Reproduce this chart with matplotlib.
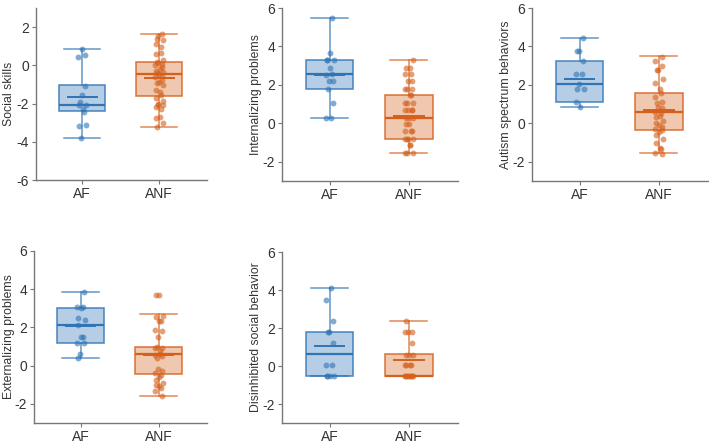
import numpy as np
import matplotlib
matplotlib.use("Agg")
import matplotlib.pyplot as plt
from matplotlib.colors import to_rgba

plt.rcParams['font.family'] = ['Liberation Sans', 'DejaVu Sans']
plt.rcParams['axes.unicode_minus'] = False

groups = ["AF", "ANF"]
titles = ["Social skills", "Internalizing problems", "Autism spectrum behaviors",
          "Externalizing problems", "Disinhibited social behavior"]

# individual points
social_af = [0.85, 0.55, 0.45, -1.1, -1.55, -1.9, -2.05, -2.1, -2.3, -2.45, -3.15, -3.1, -3.8]
social_anf = [1.65, 1.55, 1.4, 1.3, 1.1, 0.95, 0.65, 0.6, 0.3, 0.15, 0.1, 0.05, 0.0, -0.1,
              -0.2, -0.3, -0.35, -0.4, -0.45, -0.55, -0.6, -0.75, -0.85, -0.95, -1.05, -1.3,
              -1.4, -1.55, -1.7, -1.85, -2.0, -2.05, -2.1, -2.2, -2.3, -2.7, -2.75, -3.0, -3.25]
intern_af = [5.5, 3.65, 3.3, 3.3, 3.3, 2.9, 2.55, 2.5, 2.2, 2.2, 1.8, 1.05, 0.3, 0.3]
intern_anf = [3.3, 2.9, 2.9, 2.55, 2.55, 2.2, 2.2, 1.8, 1.8, 1.8, 1.45, 1.45, 1.05, 1.05, 1.05,
              0.7, 0.7, 0.7, 0.7, 0.3, 0.3, 0.3, -0.05, -0.05, -0.4, -0.4, -0.4, -0.8, -0.8,
              -0.8, -0.8, -1.15, -1.15, -1.55, -1.55, -1.55]
autism_af = [4.45, 3.75, 3.75, 3.25, 2.55, 2.55, 2.05, 1.8, 1.8, 1.1, 0.85]
autism_anf = [3.45, 3.25, 3.0, 2.8, 2.75, 2.3, 2.1, 1.8, 1.6, 1.35, 1.1, 1.05, 0.85, 0.8, 0.6,
              0.55, 0.4, 0.35, 0.1, 0.0, -0.1, -0.2, -0.3, -0.35, -0.45, -0.6, -0.8, -1.0,
              -1.3, -1.35, -1.55, -1.6]
extern_af = [3.85, 3.05, 3.05, 3.0, 2.5, 2.4, 2.15, 1.5, 1.5, 1.2, 1.2, 0.6, 0.4]
extern_anf = [3.7, 3.7, 2.6, 2.55, 2.35, 2.35, 1.85, 1.8, 1.5, 1.0, 0.95, 0.9, 0.75, 0.6, 0.55,
              0.5, 0.4, -0.2, -0.3, -0.4, -0.5, -0.6, -0.75, -0.9, -1.0, -1.05, -1.15, -1.3, -1.6]
disinh_af = [4.1, 3.5, 2.35, 1.8, 1.8, 1.2, 0.05, 0.05, -0.5, -0.5, -0.5, -0.5]
disinh_anf = [2.35, 1.8, 1.8, 1.8, 1.2, 0.6, 0.6, 0.6, 0.05, 0.05, 0.05, 0.05,
              -0.5, -0.5, -0.5, -0.5, -0.5, -0.5, -0.5, -0.5]

# box statistics per panel: [AF, ANF]
q1 = [[-2.4, -1.6], [1.8, -0.8], [1.1, -0.35], [1.2, -0.45], [-0.5, -0.5]]
med = [[-2.1, -0.45], [2.55, 0.3], [2.05, 0.6], [2.15, 0.6], [0.65, -0.5]]
q3 = [[-1.05, 0.15], [3.3, 1.45], [3.25, 1.6], [3.0, 1.0], [1.8, 0.65]]
whislo = [[-3.8, -3.25], [0.3, -1.55], [0.85, -1.55], [0.4, -1.6], [-0.5, -0.5]]
whishi = [[0.85, 1.65], [5.5, 3.3], [4.45, 3.5], [3.85, 2.7], [4.1, 2.35]]
means = [[-1.65, -0.65], [2.5, 0.4], [2.3, 0.7], [2.05, 0.55], [1.05, 0.3]]

points = [[social_af, social_anf], [intern_af, intern_anf], [autism_af, autism_anf],
          [extern_af, extern_anf], [disinh_af, disinh_anf]]
ylims = [(-6, 3), (-3, 6), (-3, 6), (-3, 6), (-3, 6)]
yticks = [[-6, -4, -2, 0, 2], [-2, 0, 2, 4, 6], [-2, 0, 2, 4, 6], [-2, 0, 2, 4, 6], [-2, 0, 2, 4, 6]]

colors = ["#2f74b5", "#d4601c"]
W, H = 709, 443
rects_px = [(36, 8, 207, 180), (282, 8, 458, 181), (532, 8, 708, 181),
            (34, 251, 207, 423), (282, 252, 458, 423)]
label_x_px = [15, 262, 512, 15, 262]

fig = plt.figure(figsize=(W / 100, H / 100), dpi=100)
fig.patch.set_facecolor("white")

for k in range(5):
    l, t, r, b = rects_px[k]
    ax = fig.add_axes([l / W, 1 - b / H, (r - l) / W, (b - t) / H])
    for g in range(2):
        c = colors[g]
        stats = [dict(med=med[k][g], q1=q1[k][g], q3=q3[k][g],
                      whislo=whislo[k][g], whishi=whishi[k][g], fliers=[])]
        ax.bxp(stats, positions=[g], widths=0.6, capwidths=0.47, patch_artist=True,
               showfliers=False,
               boxprops=dict(facecolor=to_rgba(c, 0.35), edgecolor=to_rgba(c, 0.8), linewidth=1.2),
               medianprops=dict(color=c, linewidth=1.6),
               whiskerprops=dict(color=to_rgba(c, 0.75), linewidth=1.1),
               capprops=dict(color=to_rgba(c, 0.75), linewidth=1.1))
        ax.hlines(means[k][g], g - 0.2, g + 0.2, color=c, linewidth=1.4, zorder=4)
        vals = np.array(points[k][g])
        n = len(vals)
        jit = 0.05 * np.sin(np.arange(n) * 2.39 + 0.7 * k + g)
        ax.scatter(g + jit, vals, s=18, color=c, alpha=0.6, linewidths=0, zorder=5)
    ax.set_xlim(-0.6, 1.62)
    ax.set_ylim(*ylims[k])
    ax.set_yticks(yticks[k])
    ax.set_xticks([0, 1])
    ax.set_xticklabels(groups)
    ax.set_ylabel(titles[k], fontsize=8.8, color="#333333")
    ax.yaxis.set_label_coords((label_x_px[k] - l) / (r - l), 0.5)
    for s in ["top", "right"]:
        ax.spines[s].set_visible(False)
    for s in ["left", "bottom"]:
        ax.spines[s].set_color("#777777")
        ax.spines[s].set_linewidth(1.0)
    ax.tick_params(axis="both", colors="#777777", labelcolor="#333333", labelsize=10,
                   length=3, width=0.8, pad=2)
    ax.set_facecolor("white")

fig.savefig("out.png", dpi=100, facecolor="white")
